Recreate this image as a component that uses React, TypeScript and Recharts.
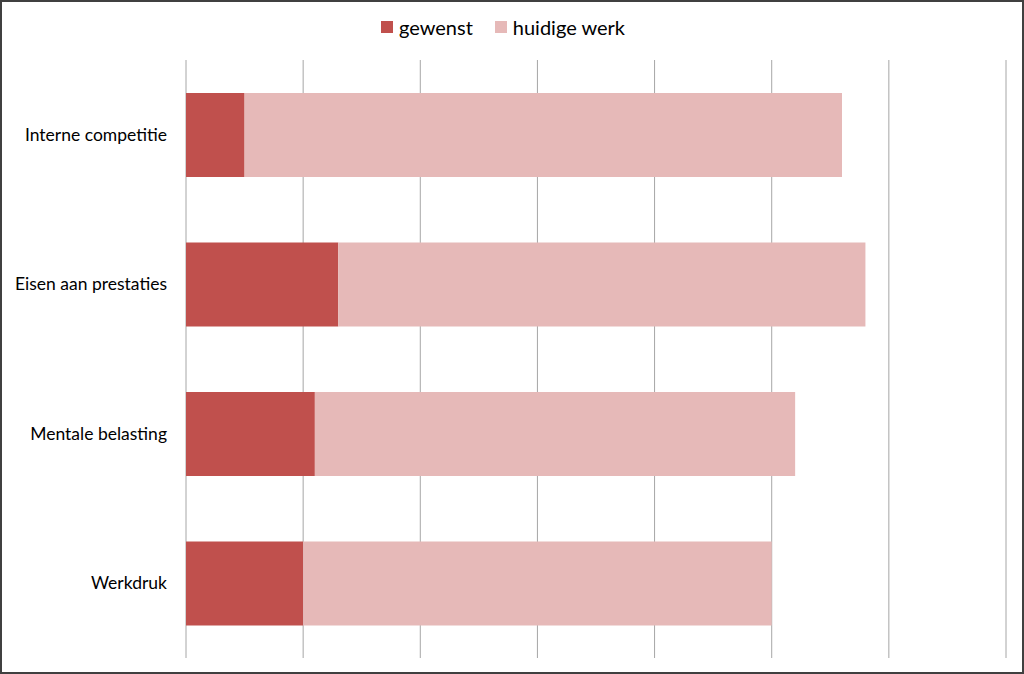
import React from 'react';
import { BarChart, Bar, XAxis, YAxis, CartesianGrid, Legend } from 'recharts';

const categories = ['Interne competitie', 'Eisen aan prestaties', 'Mentale belasting', 'Werkdruk'];
const gewenst = [0.5, 1.3, 1.1, 1.0];
const huidigeWerk = [5.1, 4.5, 4.1, 4.0];
const xTicks = [0, 1, 2, 3, 4, 5, 6, 7];

const data = categories.map((name, i) => ({
  name,
  gewenst: gewenst[i],
  huidige: huidigeWerk[i]
}));

const renderLegend = (props: any) => {
  const { payload } = props;
  return <div style={{ display: 'flex', justifyContent: 'center', alignItems: 'center', gap: 22, height: 24 }}>
      {payload.map((entry: any) => <div key={entry.value} style={{ display: 'flex', alignItems: 'center' }}>
          <span style={{ display: 'inline-block', width: 12, height: 12, background: entry.color, marginRight: 6 }} />
          <span style={{ fontSize: 20, color: '#000' }}>{entry.value}</span>
        </div>)}
    </div>;
};

const App = () => {
  return <div style={{ position: 'absolute', left: 0, top: 0, width: 1024, height: 674, boxSizing: 'border-box', border: '2px solid #404040', background: '#fff', fontFamily: 'Lato, "Open Sans", sans-serif' }}>
      <div style={{ position: 'absolute', left: -2, top: -2 }}>
        <BarChart width={1024} height={674} data={data} layout="vertical" margin={{ top: 36, right: 18, left: 0, bottom: 16 }}>
          <CartesianGrid horizontal={false} stroke="#a6a6a6" />
          <XAxis type="number" domain={[0, 7]} ticks={xTicks} hide />
          <YAxis type="category" dataKey="name" width={186} axisLine={false} tickLine={false} tickMargin={13} tick={{ fill: '#000', fontSize: 17.5 }} />
          <Legend verticalAlign="top" content={renderLegend} wrapperStyle={{ top: 15 }} />
          <Bar dataKey="gewenst" name="gewenst" stackId="a" fill="#C0504D" barSize={84} isAnimationActive={false} />
          <Bar dataKey="huidige" name="huidige werk" stackId="a" fill="#E6B9B8" barSize={84} isAnimationActive={false} />
        </BarChart>
      </div>
    </div>;
};

export default App;
